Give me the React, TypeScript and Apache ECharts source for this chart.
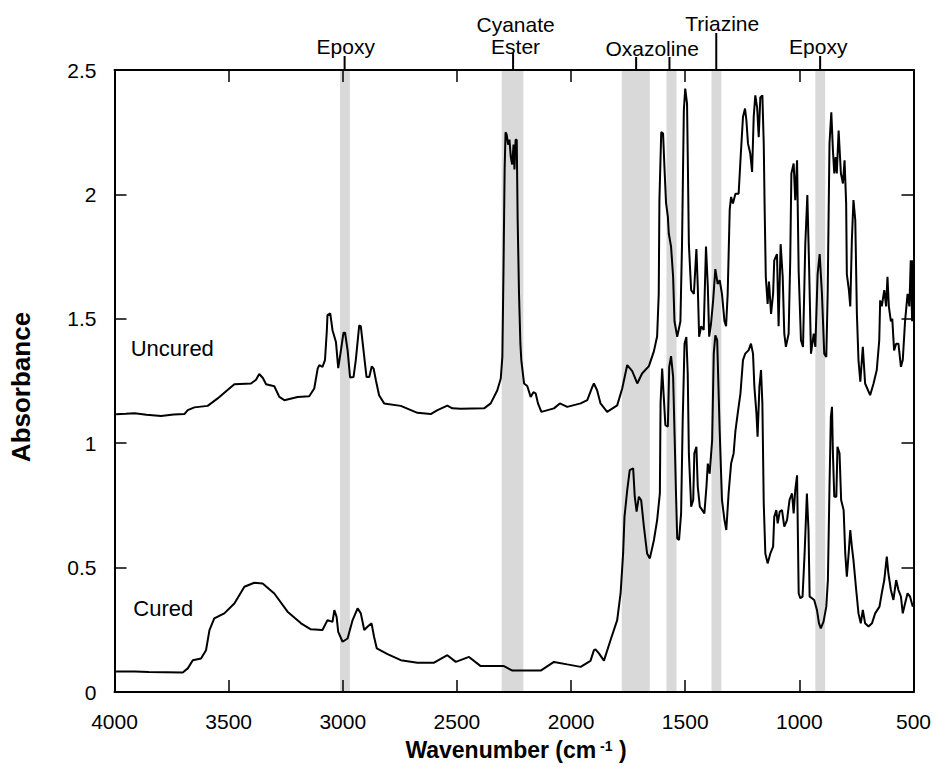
import React, { useEffect, useRef } from 'react';
import * as echarts from 'echarts';

const FONT = '"Liberation Sans", Arial, Helvetica, sans-serif';

// Uncured spectrum: [wavenumber (cm^-1), absorbance]
const uncured: number[][] = [
  [3993,1.116],[3950,1.118],[3912,1.120],[3860,1.114],[3796,1.109],[3760,1.113],[3740,1.115],[3694,1.117],[3679,1.133],[3650,1.144],
  [3592,1.150],[3548,1.180],[3510,1.210],[3475,1.237],[3402,1.240],[3380,1.255],[3366,1.278],[3350,1.262],[3336,1.237],[3300,1.229],
  [3278,1.186],[3256,1.173],[3198,1.186],[3147,1.189],[3125,1.220],[3110,1.300],[3103,1.314],[3089,1.307],[3078,1.334],[3070,1.450],
  [3067,1.515],[3055,1.522],[3045,1.454],[3030,1.407],[3020,1.302],[3008,1.374],[2997,1.444],[2990,1.444],[2979,1.374],[2968,1.264],
  [2953,1.266],[2943,1.334],[2928,1.474],[2921,1.470],[2906,1.347],[2896,1.266],[2884,1.266],[2873,1.309],[2865,1.300],[2855,1.253],
  [2841,1.193],[2819,1.160],[2746,1.150],[2673,1.122],[2615,1.117],[2585,1.133],[2542,1.151],[2520,1.140],[2483,1.138],[2381,1.140],
  [2352,1.160],[2323,1.213],[2308,1.260],[2301,1.347],[2296,1.700],[2291,2.100],[2287,2.250],[2282,2.240],[2276,2.200],[2270,2.220],
  [2264,2.150],[2258,2.120],[2252,2.200],[2248,2.100],[2243,2.220],[2238,2.220],[2234,1.900],[2228,1.600],[2222,1.400],[2218,1.334],
  [2206,1.240],[2192,1.230],[2177,1.186],[2165,1.205],[2155,1.200],[2145,1.160],[2130,1.126],[2075,1.140],[2049,1.160],[2017,1.146],
  [1958,1.160],[1929,1.173],[1907,1.226],[1900,1.240],[1886,1.213],[1871,1.160],[1842,1.126],[1798,1.152],[1776,1.220],[1754,1.314],
  [1732,1.290],[1710,1.240],[1689,1.280],[1659,1.310],[1637,1.370],[1623,1.430],[1616,1.600],[1613,1.977],[1605,2.251],[1597,2.245],
  [1591,2.110],[1584,1.966],[1576,1.910],[1572,1.843],[1562,1.790],[1553,1.669],[1547,1.490],[1535,1.428],[1521,1.490],[1514,1.800],
  [1506,2.338],[1500,2.425],[1492,2.365],[1489,2.164],[1484,1.800],[1474,1.615],[1462,1.600],[1451,1.780],[1445,1.630],[1439,1.428],
  [1430,1.470],[1419,1.455],[1409,1.790],[1401,1.630],[1395,1.428],[1387,1.480],[1378,1.570],[1368,1.700],[1358,1.640],[1349,1.655],
  [1339,1.600],[1328,1.490],[1321,1.470],[1314,1.600],[1305,1.940],[1299,1.990],[1291,1.963],[1280,2.003],[1266,2.003],[1258,2.137],
  [1247,2.311],[1238,2.345],[1232,2.298],[1225,2.204],[1215,2.164],[1207,2.090],[1200,2.311],[1193,2.398],[1185,2.350],[1178,2.230],
  [1171,2.390],[1162,2.398],[1156,2.204],[1152,1.940],[1147,1.669],[1139,1.560],[1133,1.650],[1124,1.520],[1115,1.600],[1110,1.735],
  [1098,1.760],[1091,1.470],[1082,1.800],[1073,1.669],[1066,1.440],[1059,1.387],[1047,1.440],[1040,1.735],[1035,2.084],[1025,2.124],
  [1018,1.977],[1010,2.137],[1003,1.690],[993,1.414],[984,1.387],[974,1.800],[965,1.997],[958,1.735],[949,1.360],[937,1.440],
  [930,1.387],[920,1.680],[911,1.760],[901,1.600],[891,1.360],[882,1.347],[876,1.600],[868,2.204],[860,2.330],[853,2.178],
  [847,2.084],[841,2.150],[836,2.084],[828,2.257],[818,2.084],[809,2.044],[802,2.137],[795,1.963],[792,1.680],[783,1.615],
  [777,1.550],[770,1.816],[763,1.977],[755,1.896],[748,1.520],[741,1.334],[733,1.247],[722,1.387],[712,1.240],[690,1.193],
  [675,1.240],[661,1.294],[650,1.414],[646,1.574],[639,1.550],[628,1.615],[620,1.550],[614,1.669],[608,1.550],[599,1.490],
  [593,1.500],[585,1.373],[576,1.400],[566,1.400],[555,1.307],[547,1.334],[537,1.490],[526,1.600],[518,1.550],[512,1.735],
  [506,1.490],[503,1.735]
];

// Cured spectrum: [wavenumber (cm^-1), absorbance]
const cured: number[][] = [
  [3993,0.082],[3912,0.082],[3850,0.080],[3701,0.078],[3679,0.095],[3657,0.128],[3621,0.135],[3599,0.168],[3584,0.249],[3563,0.296],
  [3519,0.316],[3475,0.356],[3431,0.423],[3388,0.439],[3351,0.436],[3300,0.396],[3242,0.323],[3183,0.276],[3140,0.252],[3089,0.249],
  [3067,0.289],[3045,0.282],[3037,0.329],[3027,0.302],[3020,0.242],[3001,0.202],[2979,0.215],[2957,0.289],[2935,0.336],[2921,0.316],
  [2906,0.249],[2892,0.262],[2874,0.276],[2863,0.222],[2851,0.175],[2804,0.152],[2746,0.128],[2673,0.118],[2600,0.118],[2542,0.148],
  [2505,0.121],[2447,0.141],[2396,0.104],[2294,0.104],[2257,0.086],[2133,0.086],[2075,0.121],[2017,0.111],[1958,0.101],[1915,0.125],
  [1900,0.168],[1893,0.171],[1878,0.155],[1856,0.126],[1827,0.209],[1798,0.289],[1783,0.397],[1772,0.557],[1766,0.704],[1754,0.811],
  [1743,0.892],[1728,0.899],[1721,0.785],[1713,0.725],[1703,0.785],[1693,0.771],[1681,0.665],[1667,0.557],[1655,0.537],[1637,0.611],
  [1623,0.691],[1611,0.798],[1608,1.160],[1601,1.300],[1594,1.187],[1587,1.073],[1576,1.067],[1570,1.307],[1562,1.350],[1553,1.267],
  [1546,1.013],[1540,0.785],[1535,0.617],[1527,0.611],[1518,0.718],[1511,1.093],[1503,1.400],[1495,1.427],[1489,1.280],[1484,0.959],
  [1474,0.745],[1465,0.772],[1460,0.959],[1451,0.986],[1445,0.825],[1436,0.745],[1426,0.732],[1416,0.718],[1407,0.825],[1401,0.918],
  [1393,0.878],[1382,1.013],[1375,1.360],[1368,1.434],[1360,1.414],[1349,1.050],[1339,0.772],[1328,0.691],[1320,0.651],[1310,0.798],
  [1299,0.918],[1288,0.959],[1280,1.050],[1270,1.120],[1258,1.200],[1247,1.334],[1237,1.360],[1222,1.374],[1212,1.400],[1203,1.360],
  [1197,1.227],[1188,1.120],[1183,1.026],[1175,1.227],[1168,1.294],[1162,1.160],[1156,0.758],[1149,0.557],[1139,0.517],[1127,0.557],
  [1115,0.584],[1110,0.704],[1101,0.731],[1095,0.678],[1086,0.725],[1076,0.731],[1066,0.665],[1054,0.691],[1043,0.772],[1032,0.798],
  [1025,0.718],[1018,0.811],[1010,0.871],[1003,0.397],[996,0.377],[986,0.383],[977,0.557],[967,0.798],[960,0.651],[955,0.383],
  [945,0.377],[935,0.370],[923,0.330],[914,0.276],[906,0.256],[894,0.283],[882,0.343],[875,0.450],[868,0.825],[862,1.106],
  [857,1.146],[853,0.959],[847,0.785],[838,0.785],[833,0.986],[824,0.959],[817,0.772],[806,0.731],[799,0.557],[792,0.464],
  [784,0.557],[777,0.651],[770,0.584],[763,0.530],[751,0.410],[741,0.316],[731,0.276],[722,0.330],[712,0.276],[697,0.263],
  [682,0.276],[668,0.316],[649,0.343],[639,0.397],[628,0.450],[617,0.544],[610,0.477],[599,0.410],[588,0.370],[576,0.450],
  [566,0.410],[555,0.383],[547,0.316],[537,0.356],[526,0.397],[515,0.383],[503,0.343]
];

// Shaded assignment bands [from, to] in cm^-1
const bands: number[][] = [
  [3012, 2969], [2304, 2209], [1778, 1655], [1582, 1538], [1385, 1342], [930, 887]
];

// Top annotations (each line of a label is its own text)
const annoText: string[][] = [['Epoxy'], ['Cyanate', 'Ester'], ['Oxazoline'], ['Triazine'], ['Epoxy']];
const annoTextWn = [2987, 2243, 1645, 1338, 917];
const annoMarkers: number[][] = [[2992], [2254], [1715, 1569], [1364], [909]];

// Axis ticks
const xTicks = { min: 500, max: 4000, step: 500 };
const yTicks = { min: 0, max: 2.5, step: 0.5 };

// layout (pixels above top axis) for annotations: [markerTop, textBottom]
const annoLayout = [[14, 13], [17, 13], [13, 11], [37, 36], [14, 13]];

export default function App() {
  const ref = useRef<HTMLDivElement>(null);
  useEffect(() => {
    const chart = echarts.init(ref.current!, null, { renderer: 'svg' });
    const axisCommon = {
      type: 'value' as const,
      splitLine: { show: false },
      axisLine: { show: true, onZero: false, lineStyle: { color: '#000', width: 2 } },
      axisTick: { show: true, inside: true, length: 12, lineStyle: { color: '#000', width: 1.5 } },
    };
    const plain = (v: number) => String(v);
    const option: any = {
      animation: false,
      backgroundColor: '#fff',
      grid: { left: 114.5, right: 24.5, top: 70, bottom: 80, containLabel: false },
      xAxis: [
        {
          ...axisCommon,
          position: 'bottom',
          min: xTicks.min, max: xTicks.max, interval: xTicks.step, inverse: true,
          axisLabel: { color: '#000', fontSize: 21, fontFamily: FONT, margin: 19, formatter: plain },
        },
        {
          ...axisCommon,
          position: 'top',
          min: xTicks.min, max: xTicks.max, interval: xTicks.step, inverse: true,
          axisLabel: { show: false },
        },
      ],
      yAxis: [
        {
          ...axisCommon,
          position: 'left',
          min: yTicks.min, max: yTicks.max, interval: yTicks.step,
          axisLabel: { color: '#000', fontSize: 21, fontFamily: FONT, margin: 18, formatter: plain },
        },
        {
          ...axisCommon,
          position: 'right',
          min: yTicks.min, max: yTicks.max, interval: yTicks.step,
          axisLabel: { show: false },
        },
      ],
      graphic: [
        {
          type: 'text', x: 21, y: 387, rotation: Math.PI / 2,
          style: { text: 'Absorbance', font: `bold 26px ${FONT}`, fill: '#000', align: 'center', verticalAlign: 'middle' },
        },
        {
          type: 'text', x: 516, y: 750,
          style: {
            text: '{a|Wavenumber (cm}{b| -1}{a| )}',
            align: 'center', verticalAlign: 'middle', fill: '#000',
            rich: {
              a: { font: `bold 23px ${FONT}`, fill: '#000' },
              b: { font: `bold 14px ${FONT}`, fill: '#000', verticalAlign: 'top' },
            },
          },
        },
        {
          type: 'text', x: 130.7, y: 348,
          style: { text: 'Uncured', font: `22px ${FONT}`, fill: '#000', align: 'left', verticalAlign: 'middle' },
        },
        {
          type: 'text', x: 133.3, y: 608,
          style: { text: 'Cured', font: `22px ${FONT}`, fill: '#000', align: 'left', verticalAlign: 'middle' },
        },
      ],
      series: [
        {
          type: 'custom',
          name: 'bands',
          z: -1,
          silent: true,
          xAxisIndex: 0, yAxisIndex: 0,
          data: bands,
          encode: { x: [0, 1] },
          renderItem: (params: any, api: any) => {
            const a = api.value(0);
            const b = api.value(1);
            const p1 = api.coord([a, yTicks.max]);
            const p2 = api.coord([b, yTicks.min]);
            return {
              type: 'rect',
              shape: { x: Math.min(p1[0], p2[0]), y: p1[1], width: Math.abs(p2[0] - p1[0]), height: p2[1] - p1[1] },
              style: { fill: '#d9d9d9' },
            };
          },
        },
        {
          type: 'line', name: 'Uncured', data: uncured, showSymbol: false, symbol: 'none', z: 3,
          lineStyle: { color: '#000', width: 2 },
        },
        {
          type: 'line', name: 'Cured', data: cured, showSymbol: false, symbol: 'none', z: 3,
          lineStyle: { color: '#000', width: 2 },
        },
        {
          type: 'custom',
          name: 'annotations',
          clip: false,
          z: 4,
          silent: true,
          data: annoTextWn.map((wn, i) => [wn, yTicks.max, i]),
          encode: { x: 0, y: 1 },
          renderItem: (params: any, api: any) => {
            const i = api.value(2);
            const top = api.coord([annoTextWn[i], yTicks.max]);
            const [markerTop, textBottom] = annoLayout[i];
            const children: any[] = annoMarkers[i].map((wn) => {
              const p = api.coord([wn, yTicks.max]);
              return {
                type: 'line',
                shape: { x1: p[0], y1: p[1], x2: p[0], y2: p[1] - markerTop },
                style: { stroke: '#000', lineWidth: 2 },
              };
            });
            const lines = annoText[i];
            const lineGap = 22;
            lines.forEach((t, k) => {
              children.push({
                type: 'text',
                x: top[0],
                y: top[1] - textBottom - (lines.length - 1 - k) * lineGap,
                style: {
                  text: t, font: `21px ${FONT}`, fill: '#000',
                  align: 'center', verticalAlign: 'bottom',
                },
              });
            });
            return { type: 'group', children };
          },
        },
      ],
    };
    chart.setOption(option);
    return () => chart.dispose();
  }, []);
  return <div ref={ref} style={{ position: 'absolute', left: 0, top: 0, width: 938, height: 772 }} />;
}
